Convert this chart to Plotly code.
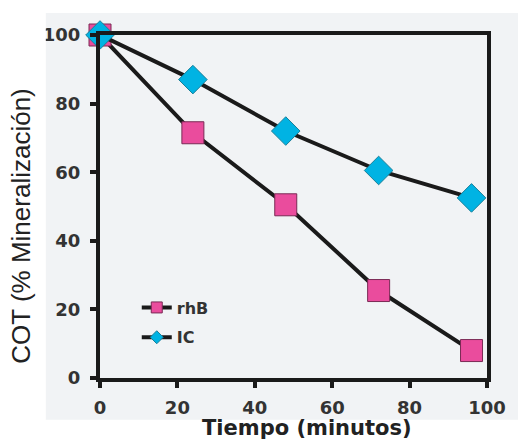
import plotly.graph_objects as go

# Mineralization (TOC removal) over time for two dyes
tiempo = [0, 24, 48, 72, 96]
rhb = [100, 71.5, 50.5, 25.5, 8]
ic = [100, 87, 72, 60.5, 52.5]
x_ticks = [0, 20, 40, 60, 80, 100]
y_ticks = [0, 20, 40, 60, 80, 100]

BG = "#f1f3f5"
INK = "#1a1a1a"
PINK = "#ea4c9d"
CYAN = "#00b3e3"

fig = go.Figure()

fig.add_trace(go.Scatter(
    x=tiempo, y=rhb, name="rhB", mode="lines+markers",
    line=dict(color=INK, width=4),
    marker=dict(symbol="square", size=22, color=PINK,
                line=dict(color="#7a2a55", width=1)),
    cliponaxis=False, showlegend=False,
))
fig.add_trace(go.Scatter(
    x=tiempo, y=ic, name="IC", mode="lines+markers",
    line=dict(color=INK, width=4),
    marker=dict(symbol="diamond", size=22, color=CYAN,
                line=dict(color="#1a7f99", width=1)),
    cliponaxis=False, showlegend=False,
))

# legend entries with smaller symbols
fig.add_trace(go.Scatter(
    x=[None], y=[None], name="rhB", mode="lines+markers",
    line=dict(color=INK, width=4),
    marker=dict(symbol="square", size=11, color=PINK,
                line=dict(color="#7a2a55", width=1)),
    legendgroup="a",
))
fig.add_trace(go.Scatter(
    x=[None], y=[None], name="IC", mode="lines+markers",
    line=dict(color=INK, width=4),
    marker=dict(symbol="diamond", size=10, color=CYAN,
                line=dict(color="#1a7f99", width=1)),
    legendgroup="b",
))

axis_common = dict(
    showgrid=False, zeroline=False, showline=True, linecolor=INK,
    linewidth=4, mirror=True, ticks="outside", ticklen=6, tickwidth=4,
    tickcolor=INK,
    tickfont=dict(family="DejaVu Sans", size=18, color="#333333", weight="bold"),
)

fig.update_xaxes(range=[0, 100], tickvals=x_ticks, ticklabelstandoff=4, **axis_common)
fig.update_yaxes(range=[0, 100], tickvals=y_ticks, ticklabelstandoff=6, **axis_common)

fig.update_layout(
    width=518, height=441,
    margin=dict(l=100, r=25, t=35, b=63),
    paper_bgcolor=BG,
    plot_bgcolor=BG,
    showlegend=True,
    legend=dict(
        x=0.095, y=0.255, xanchor="left", yanchor="top",
        bgcolor="rgba(0,0,0,0)", traceorder="grouped", tracegroupgap=6,
        font=dict(family="DejaVu Sans", size=16, color="#333333", weight="bold"),
        itemwidth=30,
    ),
    # white margins around the shaded panel
    shapes=[
        dict(type="rect", xref="paper", yref="paper", layer="above",
             x0=-0.3, x1=1.1, y0=1.064, y1=1.2, fillcolor="white", line=dict(width=0)),
        dict(type="rect", xref="paper", yref="paper", layer="above",
             x0=-0.3, x1=-0.140, y0=-0.3, y1=1.2, fillcolor="white", line=dict(width=0)),
        dict(type="rect", xref="paper", yref="paper", layer="above",
             x0=-0.3, x1=1.1, y0=-0.3, y1=-0.122, fillcolor="white", line=dict(width=0)),
    ],
    annotations=[
        dict(text="COT (% Mineralización)", xref="paper", yref="paper",
             x=-0.205, y=0.443, textangle=-90, showarrow=False,
             xanchor="center", yanchor="middle",
             font=dict(family="Liberation Sans, Arial", size=26, color="#222222")),
        dict(text="<b>Tiempo (minutos)</b>", xref="paper", yref="paper",
             x=0.534, y=-0.146, showarrow=False, yanchor="middle",
             font=dict(family="DejaVu Sans", size=21, color="#222222")),
    ],
)

fig.write_html("out.html")
